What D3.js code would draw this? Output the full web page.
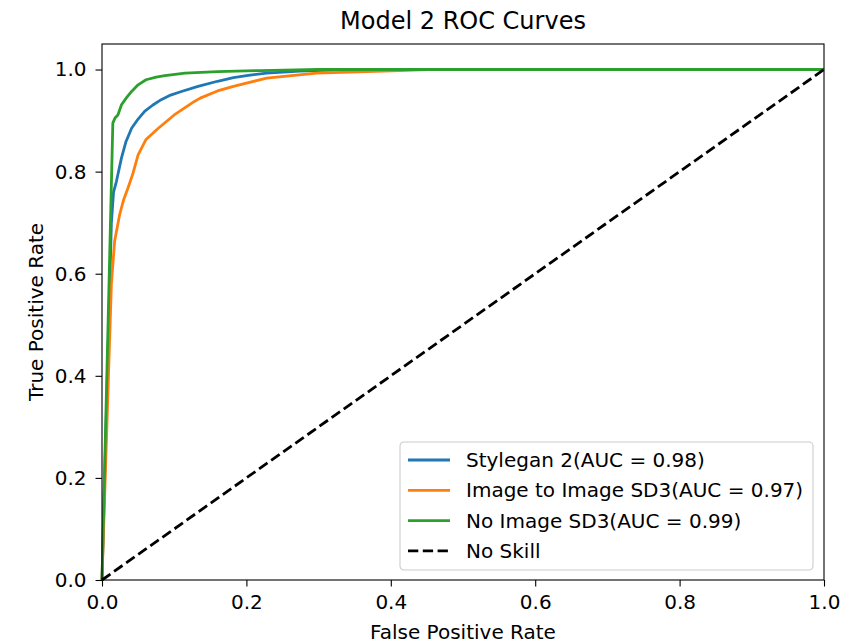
<!doctype html>
<html lang="en">
<head>
  <meta charset="utf-8">
  <style>
    body { margin: 0; background: #fff; }
    text { font-family: "DejaVu Sans", sans-serif; fill: #000; }
  </style>
</head>
<body>
  <script src="https://d3js.org/d3.v7.min.js" charset="utf-8"></script>
  <div id="chart"></div>
  <script>
    // ROC points
    var styleganFpr = [0, 0.013, 0.016, 0.020, 0.027, 0.033, 0.041, 0.050, 0.059, 0.070, 0.082, 0.095, 0.110, 0.133, 0.160, 0.182, 0.205, 0.228, 0.274, 0.320, 0.360, 1.0];
    var styleganTpr = [0, 0.700, 0.760, 0.781, 0.827, 0.858, 0.885, 0.903, 0.918, 0.930, 0.941, 0.950, 0.957, 0.967, 0.977, 0.984, 0.989, 0.993, 0.997, 0.999, 1.0, 1.0];

    var img2imgFpr = [0, 0.013, 0.0175, 0.0245, 0.030, 0.036, 0.043, 0.050, 0.061, 0.078, 0.100, 0.128, 0.136, 0.160, 0.182, 0.228, 0.297, 0.367, 0.413, 0.450, 1.0];
    var img2imgTpr = [0, 0.580, 0.664, 0.716, 0.745, 0.768, 0.797, 0.833, 0.863, 0.885, 0.911, 0.9375, 0.944, 0.958, 0.967, 0.983, 0.993, 0.996, 0.998, 1.0, 1.0];

    var noImageFpr = [0, 0.015, 0.018, 0.022, 0.027, 0.034, 0.041, 0.050, 0.061, 0.075, 0.087, 0.115, 0.160, 0.220, 0.300, 1.0];
    var noImageTpr = [0, 0.895, 0.905, 0.911, 0.931, 0.945, 0.957, 0.970, 0.980, 0.985, 0.988, 0.993, 0.996, 0.998, 1.0, 1.0];

    var seriesNames = ["Stylegan 2(AUC = 0.98)", "Image to Image SD3(AUC = 0.97)", "No Image SD3(AUC = 0.99)"];
    var seriesColors = ["#1f77b4", "#ff7f0e", "#2ca02c"];
    var xTicks = [0, 0.2, 0.4, 0.6, 0.8, 1.0];
    var yTicks = [0, 0.2, 0.4, 0.6, 0.8, 1.0];

    var width = 856, height = 643;
    var margin = {top: 44, right: 32, bottom: 63, left: 102};
    var w = width - margin.left - margin.right,
        h = height - margin.top - margin.bottom;

    var svg = d3.select("#chart").append("svg")
                .attr("width", width)
                .attr("height", height);
    var g = svg.append("g")
               .attr("transform", "translate(" + margin.left + "," + margin.top + ")");

    var x = d3.scaleLinear().domain([0, 1]).range([0, w]);
    var y = d3.scaleLinear().domain([0, 1.05]).range([h, 0]);

    var line = d3.line().x(d => x(d[0])).y(d => y(d[1]));

    var series = [
      d3.zip(styleganFpr, styleganTpr),
      d3.zip(img2imgFpr, img2imgTpr),
      d3.zip(noImageFpr, noImageTpr)
    ];

    g.selectAll("path.roc").data(series).enter()
     .append("path")
     .attr("class", "roc")
     .attr("d", line)
     .attr("fill", "none")
     .attr("stroke", (d, i) => seriesColors[i])
     .attr("stroke-width", 2.8)
     .attr("stroke-linejoin", "round");

    // no skill diagonal
    g.append("path")
     .attr("d", line([[0, 0], [1, 1]]))
     .attr("fill", "none")
     .attr("stroke", "#000")
     .attr("stroke-width", 2.8)
     .attr("stroke-dasharray", "10.3,4.5");

    // axes
    var xAxis = g.append("g")
                 .attr("transform", "translate(0," + h + ")")
                 .call(d3.axisBottom(x).tickValues(xTicks).tickFormat(d3.format(".1f")).tickSize(6.5).tickPadding(8));
    var yAxis = g.append("g")
                 .call(d3.axisLeft(y).tickValues(yTicks).tickFormat(d3.format(".1f")).tickSize(6.5).tickPadding(9));
    [xAxis, yAxis].forEach(function(a) {
      a.select(".domain").remove();
      a.selectAll("line").attr("stroke", "#000").attr("stroke-width", 1.1);
      a.selectAll("text").style("font-size", "20px").attr("fill", "#222");
    });

    // frame
    g.append("rect")
     .attr("width", w).attr("height", h)
     .attr("fill", "none")
     .attr("stroke", "#000")
     .attr("stroke-width", 1.1);

    // titles
    svg.append("text")
       .attr("x", margin.left + w / 2).attr("y", 29)
       .attr("text-anchor", "middle")
       .attr("fill", "#222")
       .style("font-size", "24px")
       .text("Model 2 ROC Curves");
    svg.append("text")
       .attr("x", margin.left + w / 2).attr("y", 639)
       .attr("text-anchor", "middle")
       .style("font-size", "20px")
       .text("False Positive Rate");
    svg.append("text")
       .attr("transform", "translate(43," + (margin.top + h / 2) + ") rotate(-90)")
       .attr("text-anchor", "middle")
       .style("font-size", "20px")
       .text("True Positive Rate");

    // legend
    var legend = g.append("g").attr("transform", "translate(" + (400 - margin.left) + "," + (442 - margin.top) + ")");
    legend.append("rect")
          .attr("width", 413).attr("height", 128)
          .attr("rx", 4)
          .attr("fill", "#fff").attr("fill-opacity", 0.8)
          .attr("stroke", "#ccc").attr("stroke-width", 1.1);
    var items = seriesNames.map((n, i) => ({name: n, color: seriesColors[i], dash: null}))
                           .concat([{name: "No Skill", color: "#000", dash: "10.3,4.5"}]);
    var row = legend.selectAll("g.item").data(items).enter()
                    .append("g").attr("class", "item")
                    .attr("transform", (d, i) => "translate(0," + (18 + i * 30.3) + ")");
    row.append("line")
       .attr("x1", 8).attr("x2", 50)
       .attr("stroke", d => d.color)
       .attr("stroke-width", 2.8)
       .attr("stroke-dasharray", d => d.dash);
    row.append("text")
       .attr("x", 66).attr("dy", "0.35em")
       .style("font-size", "20px")
       .text(d => d.name);
  </script>
</body>
</html>
